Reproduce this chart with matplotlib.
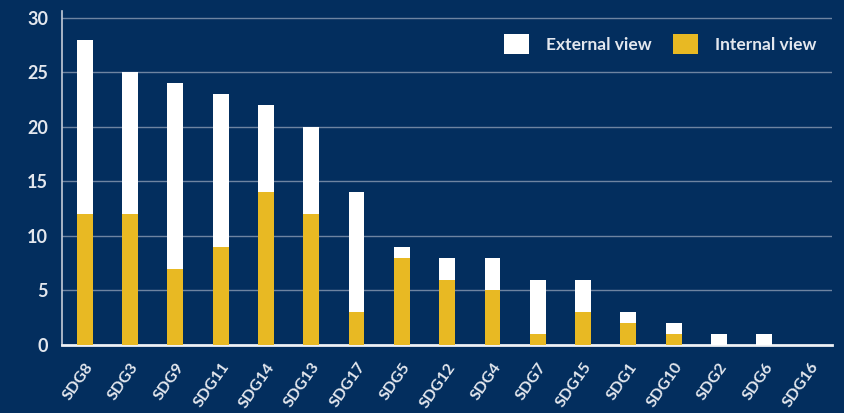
import matplotlib.pyplot as plt
from matplotlib.patches import Patch

categories = ["SDG8", "SDG3", "SDG9", "SDG11", "SDG14", "SDG13", "SDG17", "SDG5", "SDG12",
              "SDG4", "SDG7", "SDG15", "SDG1", "SDG10", "SDG2", "SDG6", "SDG16"]
internal_view = [12, 12, 7, 9, 14, 12, 3, 8, 6, 5, 1, 3, 2, 1, 0, 0, 0]
external_view = [16, 13, 17, 14, 8, 8, 11, 1, 2, 3, 5, 3, 1, 1, 1, 1, 0]
y_ticks = [0, 5, 10, 15, 20, 25, 30]

BG = "#032e5e"
YELLOW = "#e8b923"
TEXT = "#e3e7ee"

plt.rcParams["font.family"] = ["Lato", "DejaVu Sans"]

fig = plt.figure(figsize=(8.45, 4.13), dpi=100, facecolor=BG)
ax = fig.add_axes([0.0734, 0.1646, 0.9116, 0.808])
ax.set_facecolor(BG)

x = range(len(categories))
ax.bar(x, internal_view, width=0.35, color=YELLOW, zorder=3)
ax.bar(x, external_view, width=0.35, bottom=internal_view, color="white", zorder=3)

ax.set_xlim(-0.5, 16.5)
ax.set_ylim(0, 30.6)
ax.set_yticks(y_ticks)
ax.yaxis.grid(True, color="#8a9ab3", linewidth=1.0, alpha=0.8, zorder=0)
ax.set_axisbelow(True)

ax.set_xticks(list(x))
ax.set_xticklabels(categories, rotation=55, ha="right", rotation_mode="anchor")
ax.tick_params(axis="x", length=0, pad=11, labelsize=11.5, labelcolor=TEXT)
ax.tick_params(axis="y", length=0, pad=10, labelsize=13, labelcolor=TEXT)
for lbl in ax.get_yticklabels() + ax.get_xticklabels():
    lbl.set_fontweight("bold")

for side in ("top", "right"):
    ax.spines[side].set_visible(False)
ax.spines["left"].set_color("#c5ccd8")
ax.spines["left"].set_linewidth(1.2)
ax.spines["bottom"].set_color("#eef1f5")
ax.spines["bottom"].set_linewidth(2)

handles = [Patch(facecolor="white", edgecolor="none", label="External view"),
           Patch(facecolor=YELLOW, edgecolor="none", label="Internal view")]
leg = ax.legend(handles=handles, ncol=2, loc="upper right", bbox_to_anchor=(1.0, 0.98),
                frameon=False, handlelength=1.45, handleheight=1.45, handletextpad=1.0,
                columnspacing=1.2, prop={"size": 12.5, "weight": "bold"})
for t in leg.get_texts():
    t.set_color(TEXT)

fig.savefig("out.png", dpi=100, facecolor=BG)
